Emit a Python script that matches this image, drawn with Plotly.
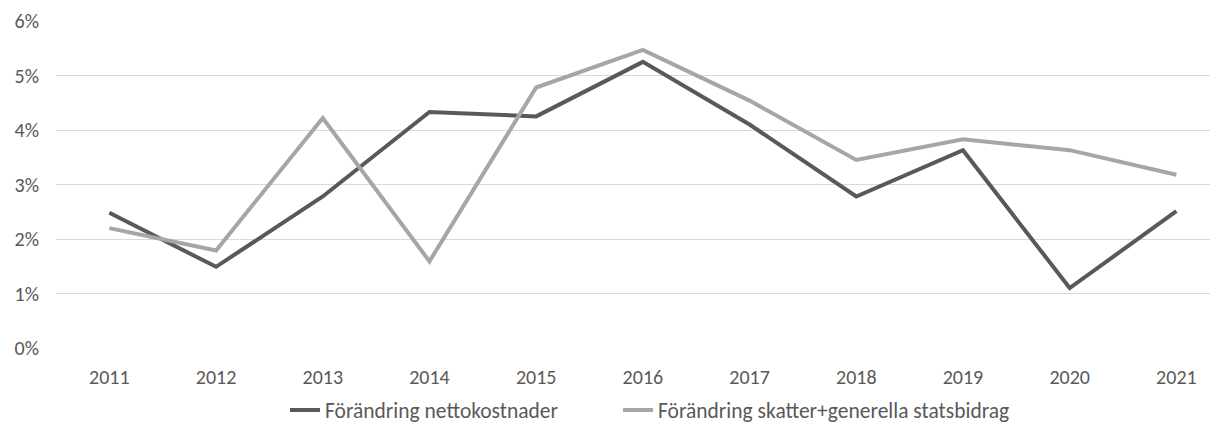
import plotly.graph_objects as go

years = ["2011", "2012", "2013", "2014", "2015", "2016", "2017", "2018", "2019", "2020", "2021"]
nettokostnader = [2.48, 1.49, 2.78, 4.33, 4.25, 5.25, 4.10, 2.78, 3.63, 1.10, 2.51]
skatter_statsbidrag = [2.20, 1.79, 4.22, 1.59, 4.78, 5.47, 4.54, 3.45, 3.83, 3.63, 3.18]
y_ticks = [0, 1, 2, 3, 4, 5, 6]
y_tick_labels = ["0%", "1%", "2%", "3%", "4%", "5%", "6%"]

FONT = "Calibri, Carlito, Lato, sans-serif"
TXT = "#595959"

W, H = 1210, 417  # page body has an 8px default margin

fig = go.Figure()
fig.add_trace(go.Scatter(
    x=years, y=nettokostnader, mode="lines",
    name="Förändring nettokostnader",
    line=dict(color="#595959", width=4),
    legendwidth=288,
))
fig.add_trace(go.Scatter(
    x=years, y=skatter_statsbidrag, mode="lines",
    name="Förändring skatter+generella statsbidrag",
    line=dict(color="#A6A6A6", width=4),
    legendwidth=370,
))

fig.update_layout(
    width=W, height=H,
    margin=dict(l=48, r=0, t=13, b=77),
    paper_bgcolor="white", plot_bgcolor="white",
    font=dict(family=FONT, size=20, color=TXT),
    showlegend=True,
    legend=dict(orientation="h", xref="container", yref="container",
                x=277 / W, xanchor="left", y=1 - 402 / H, yanchor="middle",
                font=dict(family=FONT, size=21.5, color=TXT),
                tracegroupgap=0, itemwidth=30),
    xaxis=dict(type="category", range=[-0.5, 10.39], showgrid=False, zeroline=False,
               showline=False, ticks="", automargin=False, ticklabelstandoff=15,
               tickfont=dict(size=20, color=TXT)),
    yaxis=dict(range=[0, 6], tickvals=y_ticks, ticktext=y_tick_labels,
               showgrid=True, gridcolor="#D9D9D9", gridwidth=1.3, zeroline=False,
               showline=False, ticks="", automargin=False, ticklabelstandoff=16,
               tickfont=dict(size=20, color=TXT)),
)

fig.write_html("out.html")
